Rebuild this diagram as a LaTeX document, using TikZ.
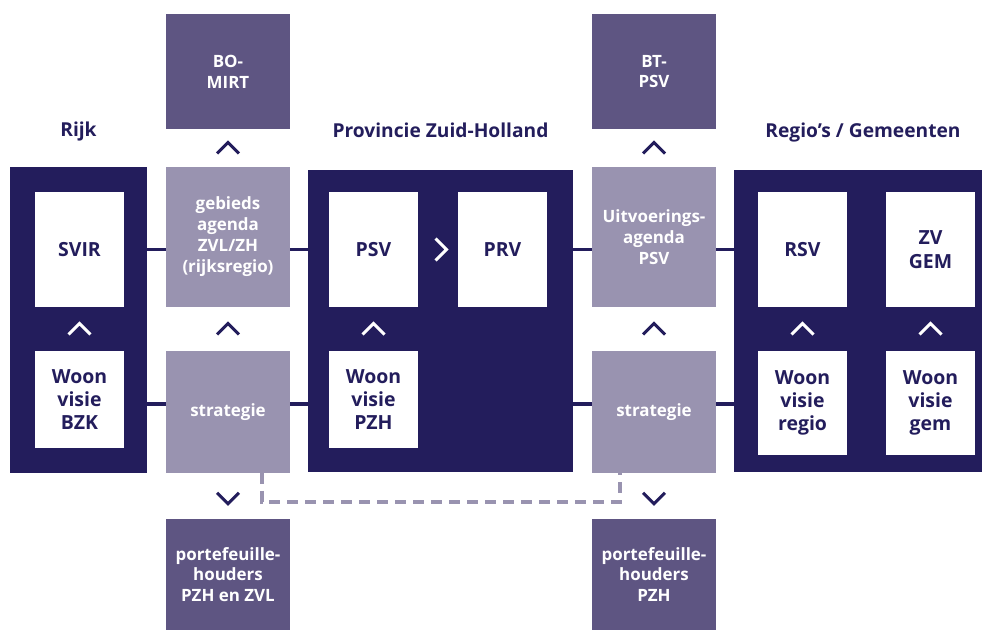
\documentclass[tikz,border=0pt]{standalone}
\usepackage{fontspec}
\setmainfont{Open Sans}
\usetikzlibrary{calc}
\definecolor{navy}{HTML}{231D5C}
\definecolor{lilac}{HTML}{9993B0}
\definecolor{plum}{HTML}{5E5582}
\newdimen\pxu \pxu=0.75pt
\begin{document}
\begin{tikzpicture}[x=0.75pt,y=-0.75pt,
  box/.style={inner sep=0pt, outer sep=0pt, align=center, font=\bfseries},
  frame/.style={box, fill=navy},
  card/.style={box, fill=white, text=navy, font=\bfseries\fontsize{14.6}{17.5}\selectfont,
    minimum width=89*\pxu, minimum height=115*\pxu},
  tint/.style={box, fill=lilac, text=white, font=\bfseries\fontsize{12.7}{15.7}\selectfont,
    minimum width=124*\pxu},
  deep/.style={box, fill=plum, text=white, font=\bfseries\fontsize{12.7}{15.6}\selectfont,
    minimum width=124*\pxu},
  heading/.style={text=navy, font=\bfseries\fontsize{14.4}{17}\selectfont, anchor=base},
  link/.style={navy, line width=2.6pt},
  dashlink/.style={lilac, line width=2.4pt, dash pattern=on 8.5pt off 5pt},
  caretup/.pic={\draw[line width=2.3pt] (-11,5.5) -- (0,-5.5) -- (11,5.5);},
  caretdown/.pic={\draw[line width=2.3pt] (-11,-5.5) -- (0,5.5) -- (11,-5.5);},
  caretright/.pic={\draw[line width=2.3pt] (-5.5,-11) -- (5.5,0) -- (-5.5,11);}
]
\useasboundingbox (0,0) rectangle (982,630);

% headings
\node[heading] (trijk) at (78.5,137) {Rijk};
\node[heading] (tprov) at (440.5,138) {Provincie Zuid-Holland};
\node[heading] (tregio) at (863,138) {Regio’s / Gemeenten};

% level frames
\node[frame, minimum width=137*\pxu, minimum height=306*\pxu] (rijk) at (78.5,320) {};
\node[frame, minimum width=265*\pxu, minimum height=302*\pxu] (prov) at (440.5,321) {};
\node[frame, minimum width=248*\pxu, minimum height=302*\pxu] (regio) at (858,321) {};

% plans and visions
\node[card] (svir) at (79.5,249.5) {SVIR};
\node[card, minimum height=97*\pxu] (wbzk) at (79.5,399.5) {Woon\\visie\\BZK};
\node[card] (psv) at (373.5,249.5) {PSV};
\node[card] (prv) at (502.5,249.5) {PRV};
\node[card, minimum height=97*\pxu] (wpzh) at (373.5,399.5) {Woon\\visie\\PZH};
\node[card] (rsv) at (802.5,249.5) {RSV};
\node[card] (zvgem) at (930.5,249.5) {ZV\\GEM};
\node[card, minimum height=104*\pxu] (wregio) at (802.5,403) {Woon\\visie\\regio};
\node[card, minimum height=104*\pxu] (wgem) at (930.5,403) {Woon\\visie\\gem};

% agendas and strategies
\node[tint, minimum height=140*\pxu] (gebieds) at (228,237) {gebieds\\agenda\\ZVL/ZH\\(rijksregio)};
\node[tint, minimum height=122*\pxu] (strat1) at (228,412) {strategie};
\node[tint, minimum height=140*\pxu] (uitv) at (654,237) {Uitvoerings-\\agenda\\PSV};
\node[tint, minimum height=122*\pxu] (strat2) at (654,412) {strategie};

% consultation bodies
\node[deep, minimum height=115*\pxu] (bomirt) at (228,71.5) {BO-\\MIRT};
\node[deep, minimum height=115*\pxu] (btpsv) at (654,71.5) {BT-\\PSV};
\node[deep, minimum height=111*\pxu] (pf1) at (228,574.5) {portefeuille-\\houders\\PZH en ZVL};
\node[deep, minimum height=111*\pxu] (pf2) at (654,574.5) {portefeuille-\\houders\\PZH};

% horizontal links
\draw[link] (svir -| rijk.east) -- (svir -| gebieds.west);
\draw[link] (svir -| gebieds.east) -- (svir -| prov.west);
\draw[link] (svir -| prov.east) -- (svir -| uitv.west);
\draw[link] (svir -| uitv.east) -- (svir -| regio.west);
\draw[link] ([yshift=-1*\pxu]wregio.center -| rijk.east) -- ([yshift=-1*\pxu]wregio.center -| strat1.west);
\draw[link] ([yshift=-1*\pxu]wregio.center -| strat1.east) -- ([yshift=-1*\pxu]wregio.center -| prov.west);
\draw[link] ([yshift=-1*\pxu]wregio.center -| prov.east) -- ([yshift=-1*\pxu]wregio.center -| strat2.west);
\draw[link] ([yshift=-1*\pxu]wregio.center -| strat2.east) -- ([yshift=-1*\pxu]wregio.center -| regio.west);

% dashed link between the two strategies
\draw[dashlink] ([xshift=-28*\pxu]strat1.south east) -- ++(0,29) -| ([xshift=28*\pxu]strat2.south west);

% carets
\pic[navy] at ($(bomirt.south)!0.5!(gebieds.north)$) {caretup};
\pic[navy] at ($(btpsv.south)!0.5!(uitv.north)$) {caretup};
\pic[navy] at ($(gebieds.south)!0.5!(strat1.north)$) {caretup};
\pic[navy] at ($(uitv.south)!0.5!(strat2.north)$) {caretup};
\pic[navy] at ($(strat1.south)!0.55!(pf1.north)$) {caretdown};
\pic[navy] at ($(strat2.south)!0.55!(pf2.north)$) {caretdown};
\pic[white] at ($(svir.south)!0.5!(wbzk.north)$) {caretup};
\pic[white] at ($(psv.south)!0.5!(wpzh.north)$) {caretup};
\pic[white] at ($(rsv.south)!0.5!(wregio.north)$) {caretup};
\pic[white] at ($(zvgem.south)!0.5!(wgem.north)$) {caretup};
\pic[white] at ($(psv.east)!0.5!(prv.west)+(3,0)$) {caretright};
\end{tikzpicture}
\end{document}
